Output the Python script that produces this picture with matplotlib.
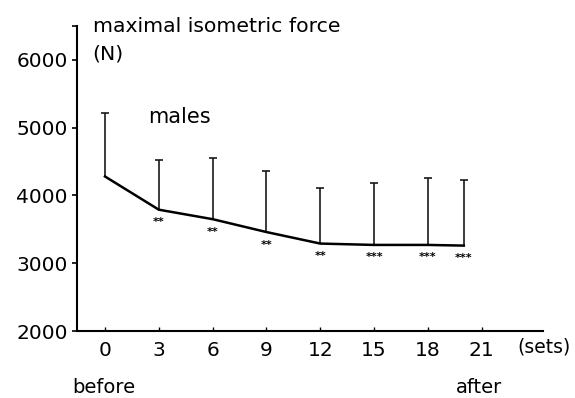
import numpy as np
import matplotlib
matplotlib.use("Agg")
import matplotlib.pyplot as plt

# maximal isometric force of the males over the sets
sets = [0, 3, 6, 9, 12, 15, 18, 20]
force_mean = [4280, 3790, 3650, 3460, 3290, 3270, 3270, 3260]
force_sd = [940, 740, 900, 900, 820, 910, 990, 970]
signif = ["", "**", "**", "**", "**", "***", "***", "***"]

x_ticks = [0, 3, 6, 9, 12, 15, 18, 21]
y_ticks = [2000, 3000, 4000, 5000, 6000]

plt.rcParams['font.family'] = ['DejaVu Sans']

fig = plt.figure(figsize=(5.75, 3.98), dpi=100)
ax = fig.add_axes([0.1339, 0.1683, 0.8110, 0.7664])

# upper error bars only
_, caps, _ = ax.errorbar(sets, force_mean, yerr=[np.zeros(len(force_sd)), force_sd],
                         fmt='none', ecolor='#1a1a1a', elinewidth=1.2,
                         capsize=3, capthick=1.2)
caps[0].set_visible(False)  # no cap at the mean
ax.plot(sets, force_mean, color='black', lw=1.8, solid_joinstyle='round')

for x, y, s in zip(sets, force_mean, signif):
    if s:
        ax.annotate(s, (x, y), xytext=(0, -9), textcoords='offset points',
                    ha='center', va='center', fontsize=8, fontweight='bold')

ax.set_xlim(-1.56, 24.43)
ax.set_ylim(2000, 6500)
ax.set_xticks(x_ticks)
ax.set_yticks(y_ticks + [6500])
ax.set_yticklabels([str(v) for v in y_ticks] + [""])

for side in ['top', 'right']:
    ax.spines[side].set_visible(False)
for side in ['left', 'bottom']:
    ax.spines[side].set_linewidth(1.5)

ax.tick_params(axis='x', direction='in', length=3, width=1, pad=7, labelsize=14.5)
ax.tick_params(axis='y', direction='out', length=3.6, width=1.2, pad=3, labelsize=14.5)

fig.text(0.161, 0.9196, "maximal isometric force", fontsize=14.7, va='baseline')
fig.text(0.161, 0.8505, "(N)", fontsize=14.7, va='baseline')
fig.text(0.2574, 0.690, "males", fontsize=15, va='baseline')
fig.text(0.899, 1 - 347 / 398, "(sets)", fontsize=13.5, va='center')
fig.text(103.5 / 575, 0.012, "before", fontsize=14, ha='center', va='baseline')
fig.text(479 / 575, 0.012, "after", fontsize=14, ha='center', va='baseline')

fig.savefig("out.png", dpi=100)
